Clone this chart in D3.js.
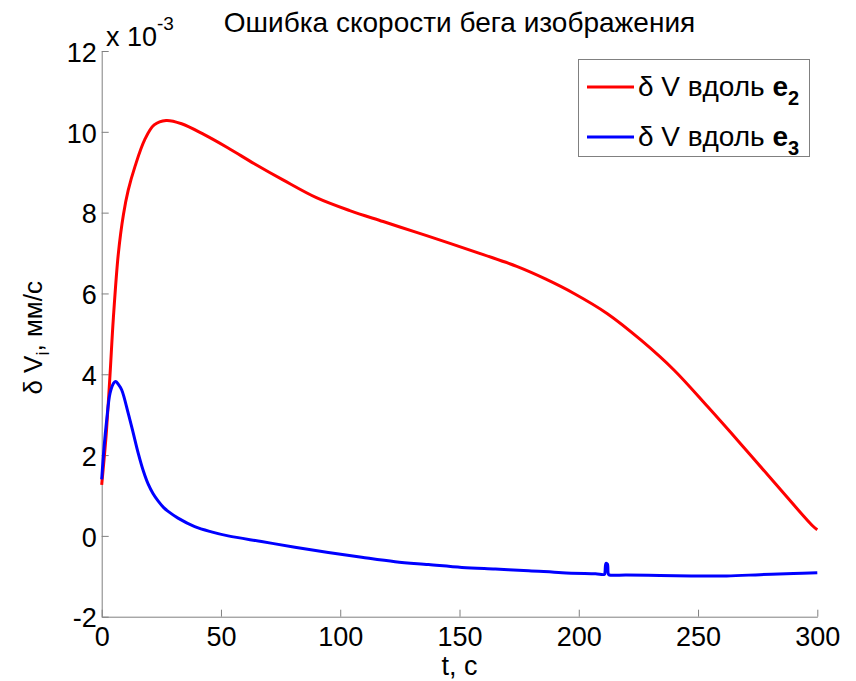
<!DOCTYPE html>
<html>
<head>
<meta charset="utf-8">
<script src="https://cdn.jsdelivr.net/npm/d3@7"></script>
<style>
  html, body { margin: 0; padding: 0; background: #fff; }
  text { font-family: "Liberation Sans", Arial, Helvetica, sans-serif; fill: #000; }
</style>
</head>
<body>
<svg id="chart" width="856" height="681"></svg>
<script>
// ---- data (values in units of 1e-3 mm/s) ----
const titleText = "Ошибка скорости бега изображения";
const xTicks = [0, 50, 100, 150, 200, 250, 300];
const yTicks = [-2, 0, 2, 4, 6, 8, 10, 12];

const redT = [0, 1, 2, 3.5, 4.9, 7, 9.1, 11.1, 14, 18, 22, 27, 33.5, 43, 53, 64, 76, 90, 104, 118, 132, 146, 160, 174, 186, 198, 212, 226, 240, 254, 268, 282, 298, 300];
const redV = [1.26, 1.9, 2.6, 4.0, 5.4, 7.0, 7.95, 8.55, 9.15, 9.8, 10.17, 10.28, 10.2, 9.93, 9.6, 9.21, 8.81, 8.37, 8.05, 7.78, 7.51, 7.24, 6.96, 6.67, 6.36, 6.0, 5.5, 4.85, 4.1, 3.2, 2.27, 1.32, 0.25, 0.15];

const blueT = [0, 1, 2.1, 3.5, 5, 5.9, 7, 8.4, 11.1, 13, 15.3, 17.5, 19.5, 21.5, 23.7, 26, 28, 32, 39, 46, 53, 67, 81, 95, 109, 123, 137, 151, 165, 179, 193, 207, 210.8, 211, 211.4, 212, 212.3, 212.6, 220, 234, 248, 262, 276, 290, 300];
const blueV = [1.4, 2.2, 2.87, 3.53, 3.78, 3.82, 3.75, 3.61, 3.04, 2.6, 2.05, 1.6, 1.28, 1.05, 0.86, 0.7, 0.6, 0.44, 0.23, 0.1, 0.0, -0.14, -0.28, -0.41, -0.53, -0.64, -0.71, -0.78, -0.82, -0.86, -0.91, -0.94, -0.95, -0.9, -0.68, -0.7, -0.92, -0.96, -0.97, -0.98, -0.99, -0.99, -0.96, -0.93, -0.91];

const seriesNames = ["e2", "e3"];
const seriesColors = ["#ff0000", "#0000ff"];

// ---- layout ----
const svg = d3.select("#chart");
const L = 101.7, R = 817.3, T = 51, B = 616.7;
const axisColor = "#808080";

const x = d3.scaleLinear().domain([0, 300]).range([L, R]);
const y = d3.scaleLinear().domain([-2, 12]).range([B, T]);

// axes
const fmt = d => String(d);
const xAxis = d3.axisBottom(x).tickValues(xTicks).tickFormat(fmt).tickSizeInner(-7).tickSizeOuter(0).tickPadding(10);
const yAxis = d3.axisLeft(y).tickValues(yTicks).tickFormat(fmt).tickSizeInner(-7).tickSizeOuter(0).tickPadding(5);

const gx = svg.append("g").attr("transform", `translate(0,${B})`).call(xAxis);
const gy = svg.append("g").attr("transform", `translate(${L},0)`).call(yAxis);
[gx, gy].forEach(g => {
  g.select(".domain").attr("stroke", axisColor).attr("stroke-width", 1);
  g.selectAll(".tick line").attr("stroke", axisColor);
  g.selectAll(".tick text").attr("font-size", 27).attr("fill", "#000")
    .style("font-family", '"Liberation Sans", Arial, sans-serif');
});
gy.selectAll(".tick text").attr("dy", "0.38em");
gx.selectAll(".tick text").attr("dy", "0.7em");

// exponent label
const ex = svg.append("text").attr("x", 106).attr("y", 46).attr("font-size", 27);
ex.append("tspan").text("x 10");
ex.append("tspan").attr("dy", -16).attr("font-size", 19).text("-3");

// title
svg.append("text").attr("x", (L + R) / 2).attr("y", 32).attr("text-anchor", "middle")
  .attr("font-size", 28).text(titleText);

// x label
svg.append("text").attr("x", (L + R) / 2).attr("y", 675).attr("text-anchor", "middle")
  .attr("font-size", 27).text("t, c");

// y label
const yl = svg.append("text").attr("transform", `translate(42,${(T + B) / 2 + 4}) rotate(-90)`)
  .attr("text-anchor", "middle").attr("font-size", 26);
yl.append("tspan").text("δ V");
yl.append("tspan").attr("dy", 7).attr("font-size", 18).text("i");
yl.append("tspan").attr("dy", -7).text(", мм/с");

// lines
const line = d3.line().x(d => x(d[0])).y(d => y(d[1])).curve(d3.curveCatmullRom.alpha(0.5));
const redData = redT.map((t, i) => [t, redV[i]]);
const blueData = blueT.map((t, i) => [t, blueV[i]]);
svg.append("path").datum(redData).attr("d", line).attr("fill", "none")
  .attr("stroke", seriesColors[0]).attr("stroke-width", 3).attr("stroke-linejoin", "round");
svg.append("path").datum(blueData).attr("d", line).attr("fill", "none")
  .attr("stroke", seriesColors[1]).attr("stroke-width", 3).attr("stroke-linejoin", "round");

// legend
const lg = svg.append("g");
lg.append("rect").attr("x", 578.5).attr("y", 59.5).attr("width", 231).attr("height", 97)
  .attr("fill", "#fff").attr("stroke", axisColor).attr("stroke-width", 1);
const rows = [87, 137];
seriesNames.forEach((name, i) => {
  lg.append("line").attr("x1", 587).attr("x2", 634).attr("y1", rows[i]).attr("y2", rows[i])
    .attr("stroke", seriesColors[i]).attr("stroke-width", 3);
  const t = lg.append("text").attr("x", 638).attr("y", rows[i] + 9).attr("font-size", 28);
  t.append("tspan").text("δ V вдоль ");
  t.append("tspan").attr("font-weight", "bold").text("e");
  t.append("tspan").attr("font-weight", "bold").attr("font-size", 20).attr("dy", 9).text(name.slice(1));
});
</script>
</body>
</html>
